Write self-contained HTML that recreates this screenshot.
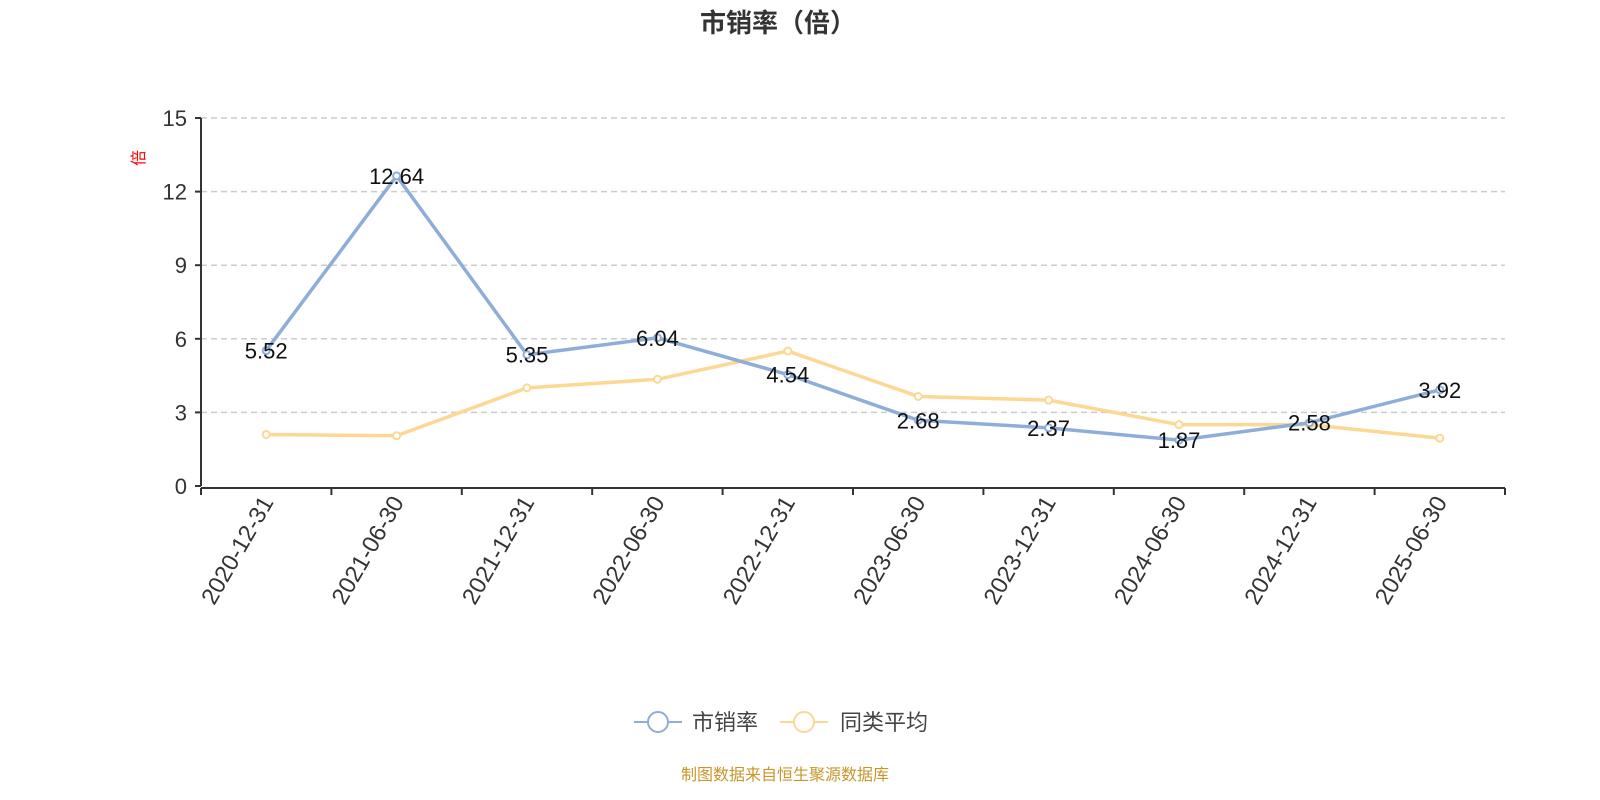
<!DOCTYPE html>
<html><head><meta charset="utf-8"><style>
html,body{margin:0;padding:0;background:#fff;}
svg{display:block;font-family:"Liberation Sans","Noto Sans CJK SC",sans-serif;}
</style></head><body>
<svg id="chart" width="1600" height="800" viewBox="0 0 1600 800">
<text x="778" y="32" text-anchor="middle" font-size="26" font-weight="bold" fill="#333">市销率（倍）</text>
<text transform="translate(144,158) rotate(-90)" text-anchor="middle" font-size="16" fill="#ff0000">倍</text>
<g id="grid"></g><g id="axes"></g><g id="series"></g>
<g>
<g><line x1="634" y1="722" x2="682" y2="722" stroke="#8eadd9" stroke-width="2"/><circle cx="658" cy="722" r="10" fill="#fff" stroke="#8eadd9" stroke-width="2"/><text x="692" y="730" font-size="22" fill="#444">市销率</text></g>
<g><line x1="780" y1="722" x2="828" y2="722" stroke="#fcd894" stroke-width="2"/><circle cx="804" cy="722" r="10" fill="#fff" stroke="#fcd894" stroke-width="2"/><text x="840" y="730" font-size="22" fill="#444">同类平均</text></g>
</g>
<text x="785" y="780" text-anchor="middle" font-size="16" fill="#c8962a">制图数据来自恒生聚源数据库</text>
</svg>
<script>
const categories=["2020-12-31","2021-06-30","2021-12-31","2022-06-30","2022-12-31","2023-06-30","2023-12-31","2024-06-30","2024-12-31","2025-06-30"];
const psValues=[5.52,12.64,5.35,6.04,4.54,2.68,2.37,1.87,2.58,3.92];
const avgValues=[2.1,2.05,4.0,4.35,5.5,3.65,3.5,2.5,2.5,1.95];
const yTicks=[0,3,6,9,12,15];
const NS="http://www.w3.org/2000/svg";
const L=201,R=1505,T=118,B=486,yMax=15;
const bw=(R-L)/categories.length;
const x=i=>L+bw*(i+0.5);
const y=v=>B-(v/yMax)*(B-T);
function mk(tag,attrs,parent){const e=document.createElementNS(NS,tag);for(const k in attrs)e.setAttribute(k,attrs[k]);parent.appendChild(e);return e;}
const grid=document.getElementById('grid'),axes=document.getElementById('axes'),ser=document.getElementById('series');
yTicks.forEach(t=>{
  if(t>0){const g=mk('line',{x1:L,x2:R,y1:y(t),y2:y(t),stroke:'#ccc','stroke-dasharray':'6,4','stroke-width':1.5},grid);
  
  }
  const tk=mk('line',{x1:L-6,x2:L,y1:y(t),y2:y(t),stroke:'#333','stroke-width':2},axes);
  
  
  const lb=mk('text',{x:L-14,y:y(t)+8,'text-anchor':'end','font-size':22,fill:'#333'},axes);
  lb.textContent=t;
  
  
});
const ya=mk('line',{x1:L,x2:L,y1:T,y2:B,stroke:'#333','stroke-width':2},axes);


const xa=mk('line',{x1:L,x2:R,y1:B+2,y2:B+2,stroke:'#333','stroke-width':2},axes);


for(let i=0;i<=categories.length;i++){
  const tk=mk('line',{x1:L+bw*i,x2:L+bw*i,y1:B+2,y2:B+9,stroke:'#333','stroke-width':2},axes);
  
  
}
categories.forEach((c,i)=>{
  const t=mk('text',{transform:`translate(${x(i)+8},${B+16}) rotate(-60)`,'text-anchor':'end','font-size':23.5,fill:'#333'},axes);
  t.textContent=c;
  
  
});
function drawSeries(vals,color,name,labels){
  const p=mk('polyline',{points:vals.map((v,i)=>x(i)+','+y(v)).join(' '),fill:'none',stroke:color,'stroke-width':3.5,'stroke-linejoin':'round'},ser);
  
  
  vals.forEach((v,i)=>{
    const c=mk('circle',{cx:x(i),cy:y(v),r:3.5,fill:'#fff',stroke:color,'stroke-width':2},ser);
    
    
    if(labels){const t=mk('text',{x:x(i),y:y(v)+8,'text-anchor':'middle','font-size':22,fill:'#111'},ser);
      t.textContent=v.toFixed(2);
      
      }
  });
}
drawSeries(avgValues,'#fcd894','avg',false);
drawSeries(psValues,'#8eadd9','ps',true);
</script>
</body></html>
